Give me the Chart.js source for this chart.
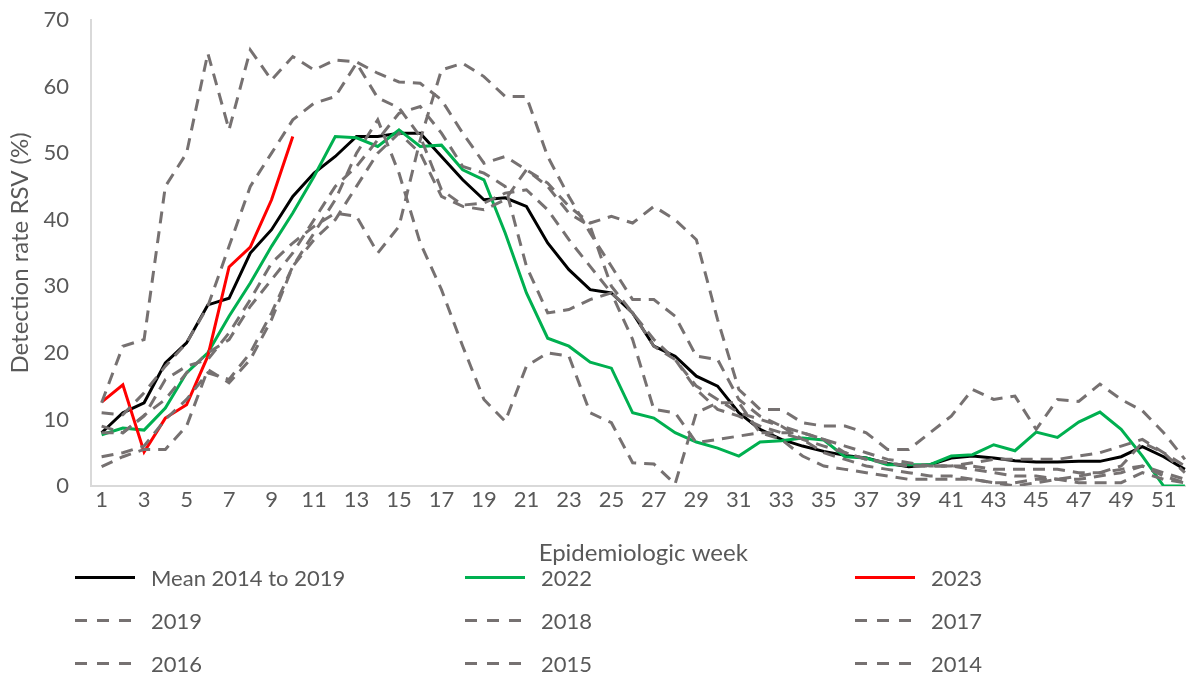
<!DOCTYPE html>
<html>
<head>
<meta charset="utf-8">
<script src="https://cdn.jsdelivr.net/npm/chart.js@4/dist/chart.umd.min.js"></script>
<style>
  body { margin: 0; overflow: hidden; background: #fff; font-family: Lato, "Open Sans", sans-serif; }
  #wrap { position: absolute; left: 0; top: 0; width: 1200px; height: 675px; }
  .item { position: absolute; height: 30px; display: flex; align-items: center; color: #595959; font-size: 22px; }
  .swatch { width: 60px; height: 3px; margin-right: 16px; }
</style>
</head>
<body>
<div id="wrap">
  <canvas id="chart" width="1200" height="675"></canvas>
  <div id="legend"></div>
</div>
<script>
// epidemiologic weeks 1..52
const weeks = [];
for (let w = 1; w <= 52; w++) weeks.push(w);

const mean = [8,11,12.5,18.5,21.5,27.2,28.2,35,38.5,43.5,47,49.5,52.5,52.5,53,53,49.5,46,43,43.3,42,36.5,32.5,29.5,29,26,21,19.5,16.5,15,11,8.5,7,6,5.2,4.6,4.2,3.4,2.9,3.2,4.2,4.5,4.2,3.8,3.6,3.6,3.7,3.7,4.4,5.9,4.4,2.5];
const y2022 = [7.7,8.7,8.4,11.7,17,20,25.5,30.5,36,41,46.5,52.5,52.3,51,53.5,51,51.2,47.5,46,38,29,22.2,21,18.6,17.7,11,10.2,8,6.6,5.7,4.5,6.6,6.8,7.2,6.9,4.4,4.2,3.2,3.2,3.2,4.5,4.7,6.2,5.3,8.1,7.3,9.6,11.1,8.5,4.5,0,0];
const y2023 = [12.6,15.2,5.1,10.2,12.2,19.5,32.9,35.9,43,52.5];

const y2019 = [2.9,4.4,5.5,5.5,9,17.5,15.5,19,25,33,37,40,45,50,53,50,43.5,42,41.5,43,47.5,45,41,39,30,26,22,19,14.5,11.5,10.5,9,8,7,5,4,3,2.5,2,1.5,1.5,1,0.5,0,0.5,1,1.5,2,3,6.5,5,2];
const y2018 = [8,8,10.6,13,17,20,22,27,31,35,40,45,48,52,56,57,53,48,47,45,33,26,26.5,28,29,22,11.5,11,6.5,7,7.5,8,8,8,7,5,4,3.5,3,3,3,2.5,2,1.5,1.5,1,1,1.5,2,3,1.5,0.5];
const y2017 = [4.4,5,6,10,13,17,16,20,26,33,38,43,50,55,47,36.5,29.5,21,13,9.7,18,20,19.5,11,9.5,3.5,3.3,0.3,11,12.5,12.5,8,7,4.5,3,2.5,2,1.5,1,1,1,1,0.5,0.5,1,1,0.5,0.5,0.5,2,1,0.5];
const y2016 = [9,8,10.5,16,18,19,23,28,33.5,36.5,39,41,40.5,35,39,52,62.5,63.5,61.5,58.5,58.5,49.5,43.5,38,33,28,28,25.5,19.5,19,13,10.5,9,8,7,6,5,4,3.5,3,3,3.5,4,4,4,4,4.5,5,6,7,5,3];
const y2015 = [11,10.7,14,18,21.5,27,36,45,50,55,57.5,58.5,63.5,58.3,56.8,52.5,44.5,42.2,42.5,44,44.5,41.5,37,33,29,26,21,19,15,13,11,10,9,7,6,5,4,3.5,3,3,3,3,2.5,2.5,2.5,2.5,2,2,2.5,3,2,1];
const y2014 = [12.5,21,22,45,50,65,53.5,65.5,61,64.5,62.5,64,63.7,62,60.7,60.5,58,53,48.5,49.5,47.5,45.5,42,39.5,40.5,39.5,42,40,37,25,14.5,11.5,11.5,9.5,9,9,8,5.5,5.5,8,10.5,14.5,13,13.5,8.5,13,12.7,15.3,13,11.3,8,4];

const gray = "#767171";
const series = [
  { label: "Mean 2014 to 2019", data: mean, color: "#000000", dash: false },
  { label: "2022", data: y2022, color: "#00B050", dash: false },
  { label: "2023", data: y2023, color: "#FF0000", dash: false },
  { label: "2019", data: y2019, color: gray, dash: true },
  { label: "2018", data: y2018, color: gray, dash: true },
  { label: "2017", data: y2017, color: gray, dash: true },
  { label: "2016", data: y2016, color: gray, dash: true },
  { label: "2015", data: y2015, color: gray, dash: true },
  { label: "2014", data: y2014, color: gray, dash: true }
];

let datasets = series.map((s, i) => ({
  label: s.label,
  data: s.data,
  borderColor: s.color,
  borderWidth: 3,
  borderDash: s.dash ? [12, 8] : [],
  pointRadius: 0,
  tension: 0,
  fill: false,
  order: series.length - i
}));

const font = { family: "Lato, 'Open Sans', sans-serif", size: 22 };
const titleFont = { family: "Lato, 'Open Sans', sans-serif", size: 24 };

new Chart(document.getElementById("chart"), {
  type: "line",
  data: { labels: weeks, datasets: datasets },
  options: {
    responsive: false,
    animation: false,
    layout: { padding: { left: 0, right: 4.5, top: 20, bottom: 105 } },
    plugins: { legend: { display: false }, tooltip: { enabled: false } },
    scales: {
      x: {
        offset: true,
        grid: { display: false, drawTicks: false },
        border: { display: true, color: "#d9d9d9", width: 2 },
        ticks: {
          autoSkip: false, maxRotation: 0, padding: 1,
          color: "#595959", font: font,
          callback: function (v, i) { return i % 2 === 0 ? weeks[i] : ""; }
        },
        title: { display: true, text: "Epidemiologic week", color: "#595959", font: titleFont, padding: { top: 4, bottom: 2 } },
        afterFit: function (scale) { scale.height = 84; }
      },
      y: {
        min: 0, max: 70,
        // hidden tick length moves labels left without adding top padding
        grid: { display: false, drawTicks: true, tickLength: 22 },
        border: { display: true, color: "#d9d9d9", width: 2 },
        ticks: { stepSize: 10, padding: 0, color: "#595959", font: font },
        title: { display: true, text: "Detection rate RSV (%)", color: "#595959", font: titleFont, padding: { top: 6, bottom: 4 } },
        afterFit: function (scale) { scale.width = 91; }
      }
    }
  }
});

// legend, 3 columns x 3 rows
const legend = document.getElementById("legend");
const colX = [75, 465, 855];
const rowY = [577, 620, 663];
series.forEach((s, i) => {
  const el = document.createElement("div");
  el.className = "item";
  el.style.left = colX[i % 3] + "px";
  el.style.top = (rowY[Math.floor(i / 3)] - 15) + "px";
  const sw = document.createElement("div");
  sw.className = "swatch";
  if (s.dash) {
    sw.style.background = "repeating-linear-gradient(to right, " + s.color + " 0 12px, transparent 12px 22px)";
  } else {
    sw.style.background = s.color;
  }
  el.appendChild(sw);
  el.appendChild(document.createTextNode(s.label));
  legend.appendChild(el);
});
</script>
</body>
</html>
